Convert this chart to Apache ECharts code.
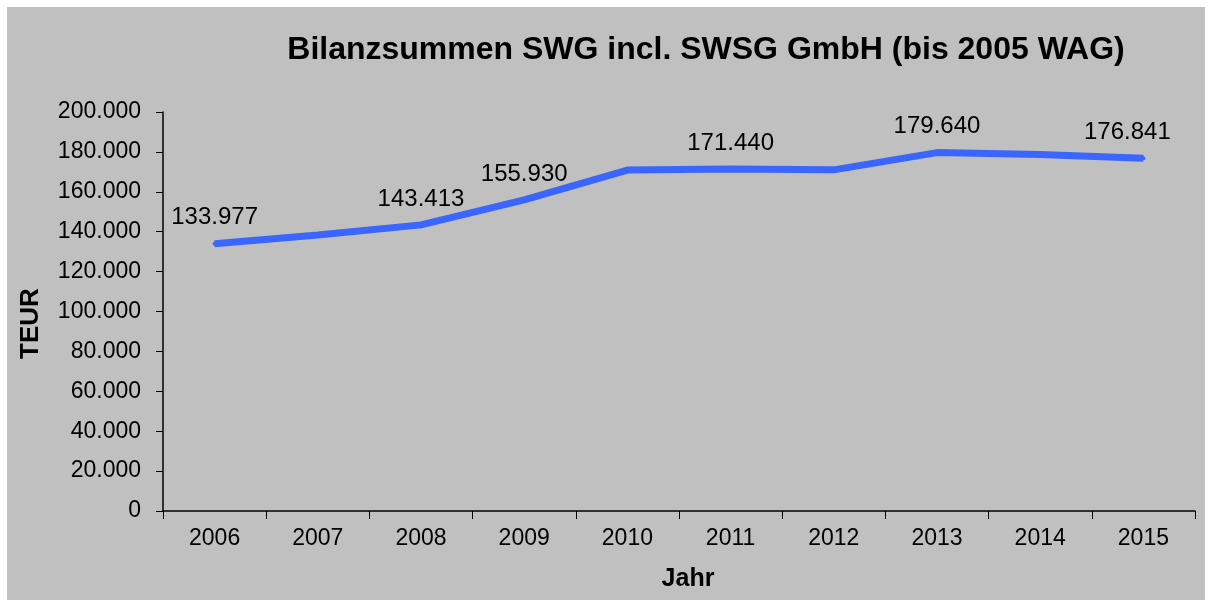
<!DOCTYPE html>
<html>
<head>
<meta charset="utf-8">
<script src="https://cdn.jsdelivr.net/npm/echarts@6/dist/echarts.min.js"></script>
<style>
  html, body { margin: 0; padding: 0; background: #fff; }
  #main { width: 1212px; height: 608px; }
</style>
</head>
<body>
<div id="main"></div>
<script>
const years = ['2006', '2007', '2008', '2009', '2010', '2011', '2012', '2013', '2014', '2015'];
const totals = [133977, 138300, 143413, 155930, 170900, 171440, 171000, 179640, 178700, 176841];
// which points carry a value label
const labelled = [true, false, true, true, false, true, false, true, false, true];

function fmt(v) {
  return String(v).replace(/\B(?=(\d{3})+(?!\d))/g, '.');
}

const chart = echarts.init(document.getElementById('main'));

chart.setOption({
  animation: false,
  textStyle: { fontFamily: 'Liberation Sans, Arial, sans-serif', color: '#000' },
  graphic: [{
    type: 'rect',
    z: -10,
    shape: { x: 7, y: 7, width: 1198, height: 593 },
    style: { fill: '#c0c0c0' }
  }],
  title: {
    text: 'Bilanzsummen SWG incl. SWSG GmbH (bis 2005 WAG)',
    left: 701,
    textAlign: 'center',
    top: 29,
    textStyle: { fontSize: 32, fontWeight: 'bold', color: '#000' }
  },
  grid: { left: 163, right: 17, top: 112, bottom: 97 },
  xAxis: {
    type: 'category',
    data: years,
    boundaryGap: true,
    name: 'Jahr',
    nameLocation: 'middle',
    nameGap: 56,
    nameTextStyle: { fontSize: 25, fontWeight: 'bold', color: '#000', padding: [0, 0, 0, 18] },
    axisLine: { lineStyle: { color: '#000', width: 1.5 } },
    axisTick: { show: true, length: 8, lineStyle: { color: '#000' } },
    axisLabel: { fontSize: 23, color: '#000', margin: 16 }
  },
  yAxis: {
    type: 'value',
    min: 0,
    max: 200000,
    interval: 20000,
    name: 'TEUR',
    nameLocation: 'middle',
    nameGap: 119,
    nameRotate: 90,
    nameTextStyle: { fontSize: 26, fontWeight: 'bold', color: '#000', padding: [0, 24, 0, 0] },
    splitLine: { show: false },
    axisLine: { show: true, lineStyle: { color: '#000', width: 1.5 } },
    axisTick: { show: true, length: 7, inside: false, lineStyle: { color: '#000' } },
    axisLabel: { fontSize: 23, color: '#000', margin: 22, formatter: v => fmt(v) }
  },
  series: [{
    type: 'line',
    data: totals.map((v, i) => ({
      value: v,
      // last label is nudged left to stay inside the frame, like in the original
      label: { show: labelled[i], offset: i === totals.length - 1 ? [-16, 0] : [0, 0] }
    })),
    symbol: 'circle',
    symbolSize: 4,
    itemStyle: { color: '#3a66ff' },
    lineStyle: { color: '#3a66ff', width: 7 },
    label: {
      position: 'top',
      distance: 12,
      fontSize: 24,
      color: '#000',
      formatter: p => fmt(p.value)
    }
  }]
});
</script>
</body>
</html>
